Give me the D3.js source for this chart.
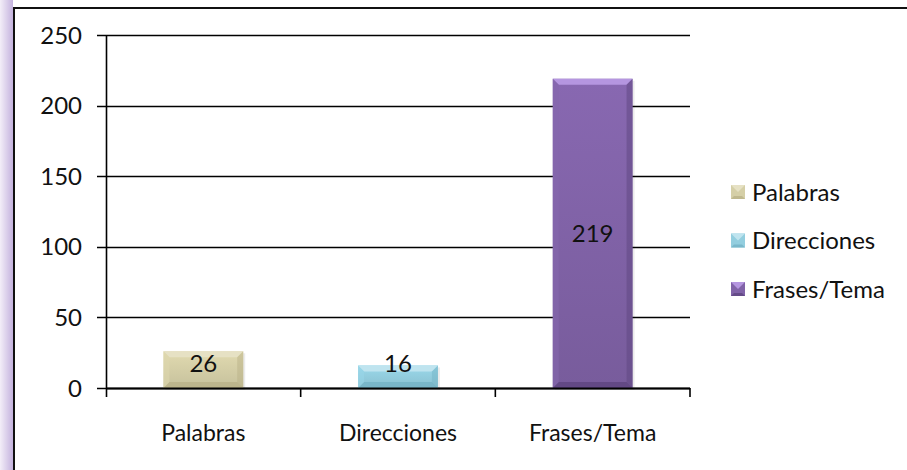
<!DOCTYPE html>
<html>
<head>
<meta charset="utf-8">
<script src="https://cdn.jsdelivr.net/npm/d3@7"></script>
<style>
  body { margin: 0; background: #fff; }
  svg { display: block; font-family: Lato, "Open Sans", sans-serif; }
</style>
</head>
<body>
<div id="chart"></div>
<script>
const categories = ["Palabras", "Direcciones", "Frases/Tema"]
const values = [26, 16, 219]
const yTicks = [0, 50, 100, 150, 200, 250]

// base, light, dark per bar
const barColors = [
    { base: "#d5cfa7", light: "#e6e1c4", dark: "#b9b288" },
    { base: "#93cedf", light: "#bfe4ef", dark: "#74b3c6" },
    { base: "#8163a8", light: "#b596e0", dark: "#5e4580" }
]

const width = 907, height = 470
const margin = { top: 35, right: 217, bottom: 82, left: 106 }
const boundedWidth = width - margin.left - margin.right
const boundedHeight = height - margin.top - margin.bottom

const svg = d3.select("#chart").append("svg")
    .attr("width", width)
    .attr("height", height)

const defs = svg.append("defs")

// left purple strip
const stripGrad = defs.append("linearGradient").attr("id", "strip")
    .attr("x1", 0).attr("x2", 1).attr("y1", 0).attr("y2", 0)
stripGrad.append("stop").attr("offset", "0%").attr("stop-color", "#f3eef8")
stripGrad.append("stop").attr("offset", "100%").attr("stop-color", "#c4b2de")
svg.append("rect").attr("x", 0).attr("y", 0).attr("width", 13).attr("height", height)
    .attr("fill", "url(#strip)")

// outer frame
svg.append("line").attr("x1", 14).attr("x2", 14).attr("y1", 8).attr("y2", height)
    .attr("stroke", "#111").attr("stroke-width", 2)
svg.append("line").attr("x1", 13).attr("x2", width).attr("y1", 8).attr("y2", 8)
    .attr("stroke", "#111").attr("stroke-width", 2)

barColors.forEach((c, i) => {
    const g = defs.append("linearGradient").attr("id", "bar" + i)
        .attr("x1", 0).attr("x2", 0).attr("y1", 0).attr("y2", 1)
    g.append("stop").attr("offset", "0%").attr("stop-color", d3.color(c.base).brighter(0.15))
    g.append("stop").attr("offset", "100%").attr("stop-color", d3.color(c.base).darker(0.2))
})

const bounds = svg.append("g")
    .attr("transform", `translate(${margin.left},${margin.top})`)

const xScale = d3.scaleBand()
    .domain(categories)
    .range([0, boundedWidth])
    .paddingInner(0.59)
    .paddingOuter(0.295)

const yScale = d3.scaleLinear()
    .domain([0, 250])
    .range([boundedHeight, 0])

// gridlines
bounds.append("g")
    .selectAll("line")
    .data(yTicks)
    .enter().append("line")
    .attr("x1", -9)
    .attr("x2", boundedWidth)
    .attr("y1", d => Math.round(yScale(d)) + 0.5)
    .attr("y2", d => Math.round(yScale(d)) + 0.5)
    .attr("stroke", "#000")
    .attr("stroke-width", 1.6)

// y labels
bounds.append("g")
    .selectAll("text")
    .data(yTicks)
    .enter().append("text")
    .attr("x", -24)
    .attr("y", d => yScale(d))
    .attr("dy", "0.36em")
    .attr("text-anchor", "end")
    .style("font-size", "24px")
    .attr("fill", "#111")
    .text(d => d)

// y axis line
bounds.append("line")
    .attr("x1", 0.5).attr("x2", 0.5)
    .attr("y1", yScale(250)).attr("y2", boundedHeight + 9)
    .attr("stroke", "#000").attr("stroke-width", 1.6)

// x category boundary ticks
const step = xScale.step()
bounds.append("g")
    .selectAll("line")
    .data(categories)
    .enter().append("line")
    .attr("x1", (d, i) => (i + 1) * step)
    .attr("x2", (d, i) => (i + 1) * step)
    .attr("y1", boundedHeight)
    .attr("y2", boundedHeight + 9)
    .attr("stroke", "#000").attr("stroke-width", 1.6)

// bars with bevel
const bev = 6
const bars = bounds.append("g")
    .selectAll("g")
    .data(categories)
    .enter().append("g")

bars.each(function (d, i) {
    const g = d3.select(this)
    const x0 = xScale(d), w = xScale.bandwidth()
    const y0 = yScale(values[i]), y1 = yScale(0)
    const c = barColors[i]
    const b = Math.min(bev, (y1 - y0) / 2)
    g.append("rect")
        .attr("x", x0 + 2).attr("y", y0 + 2)
        .attr("width", w).attr("height", y1 - y0)
        .attr("fill", "#000").attr("opacity", 0.08)
    g.append("rect")
        .attr("x", x0).attr("y", y0)
        .attr("width", w).attr("height", y1 - y0)
        .attr("fill", "url(#bar" + i + ")")
    // top bevel
    g.append("polygon")
        .attr("points", [[x0, y0], [x0 + w, y0], [x0 + w - b, y0 + b], [x0 + b, y0 + b]].join(" "))
        .attr("fill", c.light)
    // bottom bevel
    g.append("polygon")
        .attr("points", [[x0, y1], [x0 + w, y1], [x0 + w - b, y1 - b], [x0 + b, y1 - b]].join(" "))
        .attr("fill", c.dark).attr("opacity", 0.8)
    // side bevels
    g.append("polygon")
        .attr("points", [[x0, y0], [x0 + b, y0 + b], [x0 + b, y1 - b], [x0, y1]].join(" "))
        .attr("fill", d3.color(c.base).brighter(0.1)).attr("opacity", 0.6)
    g.append("polygon")
        .attr("points", [[x0 + w, y0], [x0 + w - b, y0 + b], [x0 + w - b, y1 - b], [x0 + w, y1]].join(" "))
        .attr("fill", c.dark).attr("opacity", 0.5)
    g.append("text")
        .attr("x", x0 + w / 2)
        .attr("y", Math.min((y0 + y1) / 2, y1 - 25))
        .attr("dy", "0.36em")
        .attr("text-anchor", "middle")
        .style("font-size", "24px")
        .attr("fill", "#111")
        .text(values[i])
})

// x axis line
bounds.append("line")
    .attr("x1", 0).attr("x2", boundedWidth)
    .attr("y1", boundedHeight + 0.5).attr("y2", boundedHeight + 0.5)
    .attr("stroke", "#000").attr("stroke-width", 2)

// x labels
bounds.append("g")
    .selectAll("text")
    .data(categories)
    .enter().append("text")
    .attr("x", d => xScale(d) + xScale.bandwidth() / 2)
    .attr("y", boundedHeight + 53)
    .attr("text-anchor", "middle")
    .style("font-size", "23px")
    .attr("fill", "#111")
    .text(d => d)

// legend
const legend = svg.append("g")
    .selectAll("g")
    .data(categories)
    .enter().append("g")
    .attr("transform", (d, i) => `translate(731,${192 + i * 48.5})`)

legend.each(function (d, i) {
    const g = d3.select(this)
    const c = barColors[i]
    g.append("rect").attr("x", 0).attr("y", -7).attr("width", 14).attr("height", 14)
        .attr("fill", c.base)
    g.append("polygon").attr("points", "0,-7 14,-7 7,0").attr("fill", c.light)
    g.append("polygon").attr("points", "0,7 14,7 11,4 3,4").attr("fill", c.dark).attr("opacity", 0.8)
    g.append("text")
        .attr("x", 21).attr("y", 0).attr("dy", "0.36em")
        .style("font-size", "24px")
        .attr("fill", "#111")
        .text(d)
})
</script>
</body>
</html>
